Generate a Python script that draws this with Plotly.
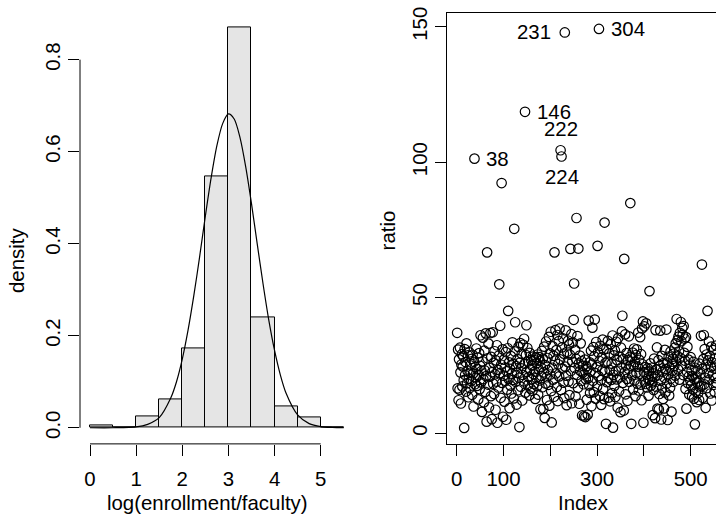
import plotly.graph_objects as go

# ---------------- data ----------------
# histogram of log(enrollment/faculty): bin edges and densities
breaks = [0.0, 0.5, 1.0, 1.5, 2.0, 2.5, 3.0, 3.5, 4.0, 4.5, 5.0, 5.5]
hist_density = [0.0054, 0.0018, 0.0252, 0.0612, 0.1727, 0.547, 0.869, 0.239, 0.0468, 0.0216, 0.0018]

# fitted density curve
curve_x = [0.0, 0.5, 1.0, 1.25, 1.5, 1.75, 1.875, 2.0, 2.125, 2.25, 2.375, 2.5, 2.625, 2.75, 2.875,
           3.0, 3.125, 3.25, 3.375, 3.5, 3.625, 3.75, 3.875, 4.0, 4.125, 4.25, 4.5, 4.75, 5.0, 5.25, 5.5]
curve_y = [0.0, 0.0, 0.0018, 0.0075, 0.022, 0.0646, 0.100, 0.149, 0.212, 0.287, 0.371, 0.460, 0.543, 0.613, 0.661,
           0.682, 0.671, 0.631, 0.567, 0.487, 0.399, 0.313, 0.234, 0.168, 0.115, 0.075, 0.028, 0.009, 0.0025, 0.0006, 0.0001]

hist_xticks = [0, 1, 2, 3, 4, 5]
hist_yticks = [0.0, 0.2, 0.4, 0.6, 0.8]
hist_yticktext = ["0.0", "0.2", "0.4", "0.6", "0.8"]

# ratio by index (index = position + 1)
ratio = [
    37.0, 16.5, 30.8, 12.1, 27.2, 16.0, 31.5, 22.4, 10.9, 25.3,
    29.1, 17.2, 24.6, 28.3, 19.5, 1.9, 31.0, 21.4, 26.2, 15.3,
    33.1, 18.4, 23.0, 28.7, 13.2, 20.1, 29.8, 16.6, 25.0, 22.3,
    19.2, 27.4, 14.1, 28.9, 22.0, 9.8, 26.3, 101.3, 18.0, 24.4,
    20.5, 31.2, 17.4, 23.6, 27.8, 12.4, 21.3, 29.5, 16.2, 24.8,
    36.1, 18.7, 22.9, 7.8, 26.5, 35.2, 19.9, 11.3, 30.4, 23.1,
    15.2, 36.8, 21.0, 4.2, 66.7, 27.6, 17.9, 33.0, 9.5, 24.0,
    20.8, 36.9, 13.6, 28.1, 5.1, 22.5, 37.2, 18.2, 25.9, 14.4,
    30.2, 21.7, 8.6, 26.8, 19.0, 32.4, 3.8, 23.3, 16.8, 28.6,
    54.9, 22.1, 39.6, 13.0, 25.2, 92.3, 18.5, 30.9, 6.0, 21.2,
    27.1, 11.6, 24.2, 19.3, 29.9, 4.9, 22.8, 16.0, 31.3, 45.1,
    20.0, 26.1, 9.2, 23.7, 17.5, 28.4, 14.6, 21.9, 33.5, 19.6,
    25.5, 12.8, 75.4, 30.1, 40.9, 18.9, 24.7, 10.5, 22.2, 27.3,
    15.8, 31.8, 20.4, 2.2, 26.0, 33.2, 17.1, 23.9, 29.2, 12.0,
    21.5, 32.6, 19.1, 34.8, 25.6, 118.6, 14.9, 28.8, 39.8, 22.6,
    31.4, 17.7, 26.4, 20.7, 13.9, 29.6, 23.4, 16.4, 27.0, 19.8,
    24.9, 15.6, 28.2, 21.8, 18.1, 26.9, 22.7, 12.6, 27.9, 20.3,
    25.8, 17.3, 29.0, 14.2, 23.5, 28.0, 19.4, 26.6, 8.8, 24.3,
    21.1, 30.3, 16.9, 27.5, 8.9, 22.4, 31.9, 5.6, 25.1, 18.3,
    33.8, 20.6, 12.2, 27.7, 23.2, 17.8, 35.5, 10.1, 29.4, 21.6,
    37.4, 15.5, 3.9, 24.1, 32.0, 19.7, 28.5, 13.4, 66.7, 26.7,
    38.0, 22.0, 30.6, 17.0, 36.2, 11.8, 25.4, 33.9, 20.9, 38.6,
    27.2, 104.4, 15.9, 102.1, 31.6, 23.8, 35.0, 18.6, 29.3, 12.9,
    147.9, 24.5, 37.9, 21.2, 10.3, 30.0, 26.2, 34.1, 19.0, 32.7,
    14.0, 28.9, 68.0, 22.9, 36.5, 11.0, 26.3, 33.4, 18.4, 41.8,
    55.2, 24.0, 30.7, 13.5, 27.4, 79.4, 21.4, 35.8, 16.7, 68.1,
    25.7, 10.8, 28.6, 23.0, 33.1, 19.2, 26.5, 6.5, 22.3, 24.8,
    18.0, 6.2, 21.7, 27.1, 5.9, 19.9, 24.6, 12.3, 23.6, 6.8,
    20.2, 41.5, 17.6, 26.1, 14.8, 22.8, 30.4, 9.9, 25.3, 38.9,
    19.3, 31.7, 15.1, 28.3, 41.9, 22.1, 12.7, 33.6, 24.4, 17.2,
    69.1, 29.8, 21.0, 149.2, 26.6, 13.7, 32.2, 19.5, 10.4, 27.9,
    23.1, 34.5, 16.3, 30.8, 12.5, 77.7, 22.6, 25.9, 3.4, 31.1,
    18.8, 26.4, 34.0, 20.4, 13.1, 29.4, 23.3, 11.7, 32.8, 19.6,
    25.6, 14.7, 36.0, 2.0, 21.5, 28.7, 17.4, 30.5, 13.3, 22.9,
    33.7, 19.8, 26.9, 9.4, 35.1, 23.0, 15.4, 28.2, 20.6, 7.7,
    31.5, 24.2, 37.5, 43.3, 18.5, 27.3, 8.3, 64.3, 22.4, 36.4,
    14.3, 25.0, 29.5, 20.0, 11.9, 26.8, 23.7, 35.7, 18.9, 28.1,
    84.9, 24.9, 3.4, 27.6, 21.3, 29.7, 16.1, 25.1, 31.2, 19.4,
    26.2, 13.6, 28.8, 22.2, 30.9, 18.2, 24.5, 37.1, 15.7, 27.0,
    21.9, 35.4, 17.9, 29.1, 12.1, 38.6, 25.4, 41.2, 3.8, 22.5,
    39.4, 19.0, 24.3, 18.1, 40.5, 21.7, 16.8, 23.9, 20.2, 13.8,
    22.8, 52.4, 19.6, 25.7, 17.5, 21.1, 24.1, 18.7, 6.6, 22.0,
    15.9, 27.5, 20.8, 5.5, 38.0, 23.4, 17.0, 31.6, 9.0, 21.3,
    26.9, 8.7, 14.4, 24.7, 37.8, 19.3, 5.0, 28.5, 16.5, 22.7,
    12.6, 25.8, 9.1, 20.4, 30.7, 15.0, 23.6, 38.2, 18.3, 26.0,
    4.8, 21.6, 28.2, 13.9, 24.2, 16.7, 30.1, 20.1, 7.9, 25.5,
    22.9, 27.4, 18.9, 29.3, 24.8, 31.5, 21.2, 33.1, 26.4, 42.1,
    28.6, 34.3, 23.5, 35.6, 30.2, 19.7, 37.0, 27.8, 41.0, 33.9,
    24.9, 38.8, 36.3, 21.4, 39.5, 29.6, 34.9, 26.7, 16.3, 35.4,
    9.0, 22.6, 31.8, 18.4, 27.1, 20.9, 14.2, 25.3, 19.5, 28.0,
    17.6, 23.2, 13.5, 21.0, 16.1, 26.3, 12.7, 19.9, 3.2, 24.1,
    15.3, 20.5, 11.4, 18.6, 22.8, 14.8, 19.1, 12.2, 25.6, 16.9,
    21.8, 35.9, 17.3, 62.2, 23.7, 13.0, 27.3, 36.2, 18.0, 31.0,
    20.4, 9.3, 25.2, 29.0, 16.6, 45.1, 26.8, 22.1, 33.8, 19.7,
    28.4, 14.6, 24.3, 31.9, 12.0, 26.1, 21.5, 30.6, 17.8, 23.9,
    15.2, 27.7, 20.3, 32.3, 18.5, 25.0,
]
index = list(range(1, len(ratio) + 1))

label_idx = [38, 146, 222, 224, 231, 304]
label_pos = ["right", "right", "top", "bottom", "left", "right"]

scatter_xticks = [0, 100, 200, 300, 400, 500]
scatter_xticktext = ["0", "100", "", "300", "", "500"]
scatter_yticks = [0, 50, 100, 150]

# ---------------- figure ----------------
W, H = 716, 519
FONT = "Liberation Sans, Arial, Helvetica, sans-serif"
FS = 20.4


def px_x(p):
    return p / W


def px_y(p):
    return 1 - p / H


centers = [(breaks[i] + breaks[i + 1]) / 2 for i in range(len(hist_density))]
widths = [breaks[i + 1] - breaks[i] for i in range(len(hist_density))]

fig = go.Figure()
fig.add_trace(go.Bar(x=centers, y=hist_density, width=widths,
                     marker=dict(color="#E5E5E5", line=dict(color="black", width=1)),
                     xaxis="x", yaxis="y", showlegend=False, hoverinfo="skip"))
fig.add_trace(go.Scatter(x=curve_x, y=curve_y, mode="lines",
                         line=dict(color="black", width=1.2, shape="spline", smoothing=0.8),
                         xaxis="x", yaxis="y", showlegend=False, hoverinfo="skip"))
fig.add_trace(go.Scatter(x=index, y=ratio, mode="markers",
                         marker=dict(symbol="circle-open", size=9.5, color="black", line=dict(width=1.2)),
                         xaxis="x2", yaxis="y2", showlegend=False))

axis_common = dict(showgrid=False, zeroline=False, ticks="outside", ticklen=11, tickwidth=1,
                   tickcolor="black", tickfont=dict(family=FONT, size=FS, color="black"))

fig.update_layout(
    width=W, height=H,
    margin=dict(l=0, r=0, t=0, b=0),
    paper_bgcolor="white", plot_bgcolor="white",
    bargap=0,
    font=dict(family=FONT, size=FS, color="black"),
    xaxis=dict(domain=[px_x(80), px_x(353)], range=[-0.2167, 5.70], tickmode="array",
               tickvals=hist_xticks, showline=False, ticklabelstandoff=6, anchor="y", **axis_common),
    yaxis=dict(domain=[px_y(443), px_y(7.5)], range=[-0.035, 0.9005], tickmode="array",
               tickvals=hist_yticks, ticktext=hist_yticktext, tickangle=-90, showline=False,
               ticklabelstandoff=0, anchor="x", **axis_common),
    xaxis2=dict(domain=[px_x(447), 1.0], range=[-20.7, 554.1], tickmode="array",
                tickvals=scatter_xticks, ticktext=scatter_xticktext, showline=True, mirror=True,
                linecolor="black", linewidth=1, ticklabelstandoff=6, anchor="y2", **axis_common),
    yaxis2=dict(domain=[px_y(443), px_y(7.3)], range=[-4.01, 155.0], tickmode="array",
                tickvals=scatter_yticks, tickangle=-90, showline=True, mirror=False,
                linecolor="black", linewidth=1, ticklabelstandoff=0, anchor="x2", **axis_common),
)

# axis lines of the histogram span only the tick range (R style)
fig.add_shape(type="line", xref="x", yref="y domain", x0=hist_xticks[0], x1=hist_xticks[-1], y0=0, y1=0,
              line=dict(color="black", width=1))
fig.add_shape(type="line", xref="x domain", yref="y", x0=0, x1=0, y0=hist_yticks[0], y1=hist_yticks[-1],
              line=dict(color="black", width=1))

# axis titles
titles = [
    dict(text="log(enrollment/faculty)", x=px_x(207), y=px_y(503), textangle=0),
    dict(text="density", x=px_x(17), y=px_y(258), textangle=-90),
    dict(text="Index", x=px_x(583), y=px_y(503), textangle=0),
    dict(text="ratio", x=px_x(388), y=px_y(227), textangle=-90),
]
for t in titles:
    fig.add_annotation(text=t["text"], x=t["x"], y=t["y"], xref="paper", yref="paper",
                       xanchor="center", yanchor="middle", textangle=t["textangle"], showarrow=False,
                       font=dict(family=FONT, size=FS, color="black"))

# point labels
for idx, pos in zip(label_idx, label_pos):
    kw = dict(xanchor="center", yanchor="middle", xshift=0, yshift=0)
    if pos == "right":
        kw.update(xanchor="left", xshift=10)
    elif pos == "left":
        kw.update(xanchor="right", xshift=-12)
    elif pos == "top":
        kw.update(yanchor="bottom", yshift=8)
    elif pos == "bottom":
        kw.update(yanchor="top", yshift=-8)
    fig.add_annotation(text=str(idx), x=idx, y=ratio[idx - 1], xref="x2", yref="y2", showarrow=False,
                       font=dict(family=FONT, size=FS, color="black"), **kw)

fig.write_html("out.html", config={"displayModeBar": False},
               post_script="document.body.style.margin='0';document.body.style.overflow='hidden';")
